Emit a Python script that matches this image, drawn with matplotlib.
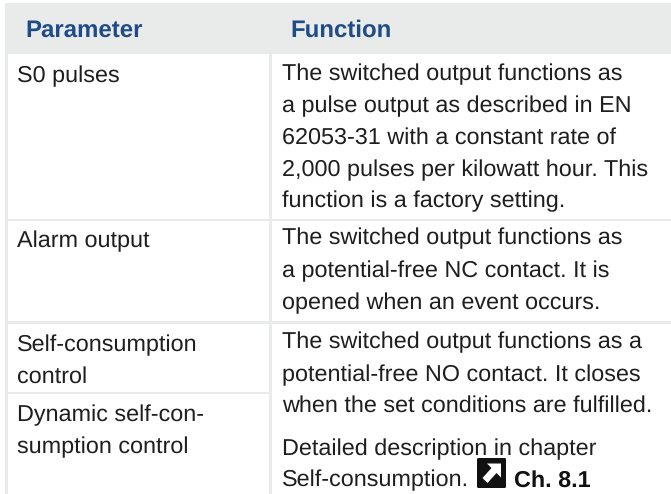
import matplotlib
matplotlib.use("Agg")
import matplotlib.pyplot as plt
from matplotlib.patches import Rectangle, FancyBboxPatch, Polygon

plt.rcParams["text.hinting"] = "none"

header_labels = ["Parameter", "Function"]
parameter_lines = ["S0 pulses", "Alarm output", "Self-consumption", "control",
                   "Dynamic self-con-", "sumption control"]
function_lines = [
    "The switched output functions as",
    "a pulse output as described in EN",
    "62053-31 with a constant rate of",
    "2,000 pulses per kilowatt hour. This",
    "function is a factory setting.",
    "The switched output functions as",
    "a potential-free NC contact. It is",
    "opened when an event occurs.",
    "The switched output functions as a",
    "potential-free NO contact. It closes",
    "when the set conditions are fulfilled.",
    "Detailed description in chapter",
    "Self-consumption.",
]
chapter_ref = "Ch. 8.1"

# baselines in pixels, top down
parameter_y = [82, 247, 351, 383, 421, 453]
function_y = [80, 112, 144, 176, 207, 244, 277, 309.5, 348, 381, 412, 455, 486.5]

grey = "#e9ebeb"
blue = "#1f4b87"
text_col = "#1e1e1e"
font = "Liberation Sans"
body_size = 16.8

fig = plt.figure(figsize=(6.71, 4.94), dpi=100)
ax = fig.add_axes([0, 0, 1, 1])
ax.set_xlim(0, 671)
ax.set_ylim(494, 0)
ax.axis("off")

# header band and cell rules
ax.add_patch(Rectangle((5, 3.5), 666, 50.5, color=grey, lw=0))
ax.add_patch(Rectangle((5, 54), 2.5, 440, color=grey, lw=0))
ax.add_patch(Rectangle((269, 54), 3, 440, color=grey, lw=0))
ax.add_patch(Rectangle((5, 218.5), 666, 2.5, color=grey, lw=0))
ax.add_patch(Rectangle((5, 321), 666, 2.5, color=grey, lw=0))
ax.add_patch(Rectangle((5, 391.5), 266, 2.5, color=grey, lw=0))

ax.text(25.5, 37, header_labels[0], family=font, weight="bold", size=17.3,
        color=blue, va="baseline")
ax.text(290, 37, header_labels[1], family=font, weight="bold", size=17.3,
        color=blue, va="baseline")

for line, y in zip(parameter_lines, parameter_y):
    ax.text(17, y, line, family=font, size=body_size, color=text_col, va="baseline")
for line, y in zip(function_lines, function_y):
    ax.text(282, y, line, family=font, size=body_size, color=text_col, va="baseline")

# chapter arrow icon
ax.add_patch(FancyBboxPatch((477.5, 458.5), 28, 29, boxstyle="round,pad=0.5,rounding_size=1.5",
                            fc="#111111", ec="none"))
ax.add_patch(Polygon([(487, 463.5), (501, 463.5), (501, 477.5), (496.5, 473), (487.5, 483),
                      (482.5, 478), (491.5, 468)], closed=True, fc="white", ec="none"))
ax.text(514, 487, chapter_ref, family=font, weight="bold", size=16.8,
        color="#111111", va="baseline")

fig.savefig("out.png", dpi=100)
